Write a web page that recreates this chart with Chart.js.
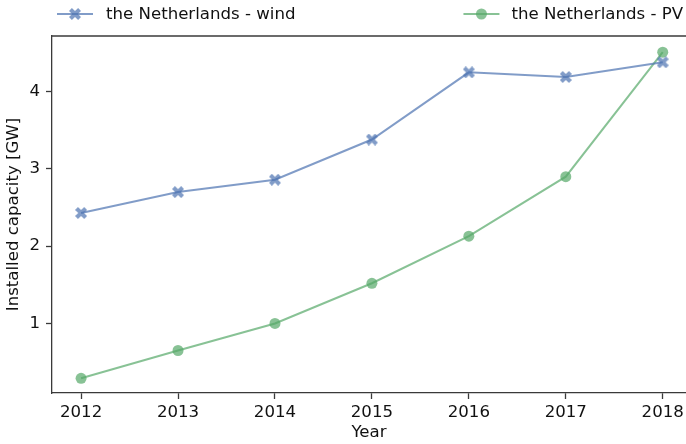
<!DOCTYPE html>
<html>
<head>
<meta charset="utf-8">
<script src="https://cdn.jsdelivr.net/npm/chart.js@4"></script>
<style>
  html, body { margin: 0; padding: 0; background: #fff; overflow: hidden; }
  canvas { display: block; }
</style>
</head>
<body>
<canvas id="myCanvas" width="686" height="444"></canvas>
<script>
var years = [2012, 2013, 2014, 2015, 2016, 2017, 2018];
var windValues = [2.43, 2.70, 2.86, 3.38, 4.25, 4.19, 4.38];
var pvValues = [0.29, 0.65, 1.00, 1.52, 2.13, 2.90, 4.51];
var yTicks = [1, 2, 3, 4];

var windColor = 'rgba(76, 114, 176, 0.7)';
var pvColor = 'rgba(85, 168, 104, 0.7)';
var spineColor = '#3a3a3a';

// filled "X" marker like matplotlib's 'X'
function makeX(size, color) {
    var c = document.createElement('canvas');
    c.width = size;
    c.height = size;
    var g = c.getContext('2d');
    var a = 0.24;
    var pts = [[0, a], [a, 0], [0.5, 0.5 - a], [1 - a, 0], [1, a], [0.5 + a, 0.5],
               [1, 1 - a], [1 - a, 1], [0.5, 0.5 + a], [a, 1], [0, 1 - a], [0.5 - a, 0.5]];
    g.fillStyle = color;
    g.beginPath();
    pts.forEach(function (p, i) {
        if (i === 0) g.moveTo(p[0] * size, p[1] * size);
        else g.lineTo(p[0] * size, p[1] * size);
    });
    g.closePath();
    g.fill();
    return c;
}
var xMarker = makeX(12, windColor);

function toPoints(vals) {
    var out = [];
    for (var i = 0; i < years.length; i++) {
        out.push({ x: years[i], y: vals[i] });
    }
    return out;
}

// legend + top spine drawn around the axes, matplotlib style
var framePlugin = {
    id: 'frame',
    afterDraw: function (chart) {
        var ctx = chart.ctx;
        var area = chart.chartArea;
        ctx.save();
        ctx.strokeStyle = spineColor;
        ctx.lineWidth = 1.3;
        ctx.beginPath();
        ctx.moveTo(area.left, area.top);
        ctx.lineTo(area.right, area.top);
        ctx.stroke();

        ctx.font = '16.6px "DejaVu Sans"';
        ctx.textBaseline = 'middle';
        ctx.fillStyle = '#111';
        var y = 14;
        var ds = chart.data.datasets;

        function sample(x0, color, marker) {
            ctx.strokeStyle = color;
            ctx.lineWidth = 2;
            ctx.beginPath();
            ctx.moveTo(x0, y);
            ctx.lineTo(x0 + 36, y);
            ctx.stroke();
            if (marker === 'x') {
                ctx.drawImage(xMarker, x0 + 18 - 6, y - 6);
            } else {
                ctx.fillStyle = color;
                ctx.beginPath();
                ctx.arc(x0 + 18, y, 5.5, 0, Math.PI * 2);
                ctx.fill();
            }
        }

        var x1 = area.left + 5;
        sample(x1, windColor, 'x');
        ctx.fillStyle = '#111';
        ctx.fillText(ds[0].label, x1 + 49, y + 1);

        var w2 = ctx.measureText(ds[1].label).width;
        var t2 = area.right - 3 - w2;
        sample(t2 - 48, pvColor, 'o');
        ctx.fillStyle = '#111';
        ctx.fillText(ds[1].label, t2, y + 1);
        ctx.restore();
    }
};

Chart.defaults.font.family = '"DejaVu Sans"';
Chart.defaults.font.size = 16.6;
Chart.defaults.color = '#111';

var ctx = document.getElementById('myCanvas').getContext('2d');
var myChart = new Chart(ctx, {
    type: 'line',
    data: {
        datasets: [{
            label: 'the Netherlands - wind',
            data: toPoints(windValues),
            borderColor: windColor,
            borderWidth: 2,
            pointStyle: xMarker,
            pointRadius: 6,
            pointHoverRadius: 6,
        },
        {
            label: 'the Netherlands - PV',
            data: toPoints(pvValues),
            borderColor: pvColor,
            backgroundColor: pvColor,
            borderWidth: 2,
            pointStyle: 'circle',
            pointRadius: 5.5,
            pointBorderWidth: 0,
            pointHoverRadius: 5.5,
        }]
    },
    options: {
        responsive: false,
        animation: false,
        layout: {
            autoPadding: false,
            padding: { top: 36, right: 0, left: 0, bottom: 0 }
        },
        plugins: {
            legend: { display: false },
            tooltip: { enabled: false }
        },
        scales: {
            x: {
                type: 'linear',
                min: 2011.7,
                max: 2018.24,
                afterFit: function (scale) {
                    scale.height = 51;
                    scale.paddingLeft = 0;
                    scale.paddingRight = 0;
                },
                afterBuildTicks: function (scale) {
                    scale.ticks = years.map(function (v) { return { value: v }; });
                },
                ticks: {
                    padding: 4,
                    maxRotation: 0,
                    callback: function (v) { return String(v); }
                },
                grid: {
                    drawOnChartArea: false,
                    tickLength: 6,
                    tickColor: spineColor,
                    tickWidth: 1.3
                },
                border: { color: spineColor, width: 1.3 },
                title: {
                    display: true,
                    text: 'Year',
                    padding: { top: 0, bottom: 1 }
                }
            },
            y: {
                min: 0.1,
                max: 4.72,
                afterFit: function (scale) {
                    scale.width = 52;
                    scale.paddingTop = 0;
                    scale.paddingBottom = 0;
                },
                afterBuildTicks: function (scale) {
                    scale.ticks = yTicks.map(function (v) { return { value: v }; });
                },
                ticks: {
                    padding: 6,
                    callback: function (v) { return String(v); }
                },
                grid: {
                    drawOnChartArea: false,
                    tickLength: 6,
                    tickColor: spineColor,
                    tickWidth: 1.3
                },
                border: { color: spineColor, width: 1.3 },
                title: {
                    display: true,
                    text: 'Installed capacity [GW]',
                    padding: { top: 4, bottom: 0 }
                }
            }
        }
    },
    plugins: [framePlugin]
});
</script>
</body>
</html>
